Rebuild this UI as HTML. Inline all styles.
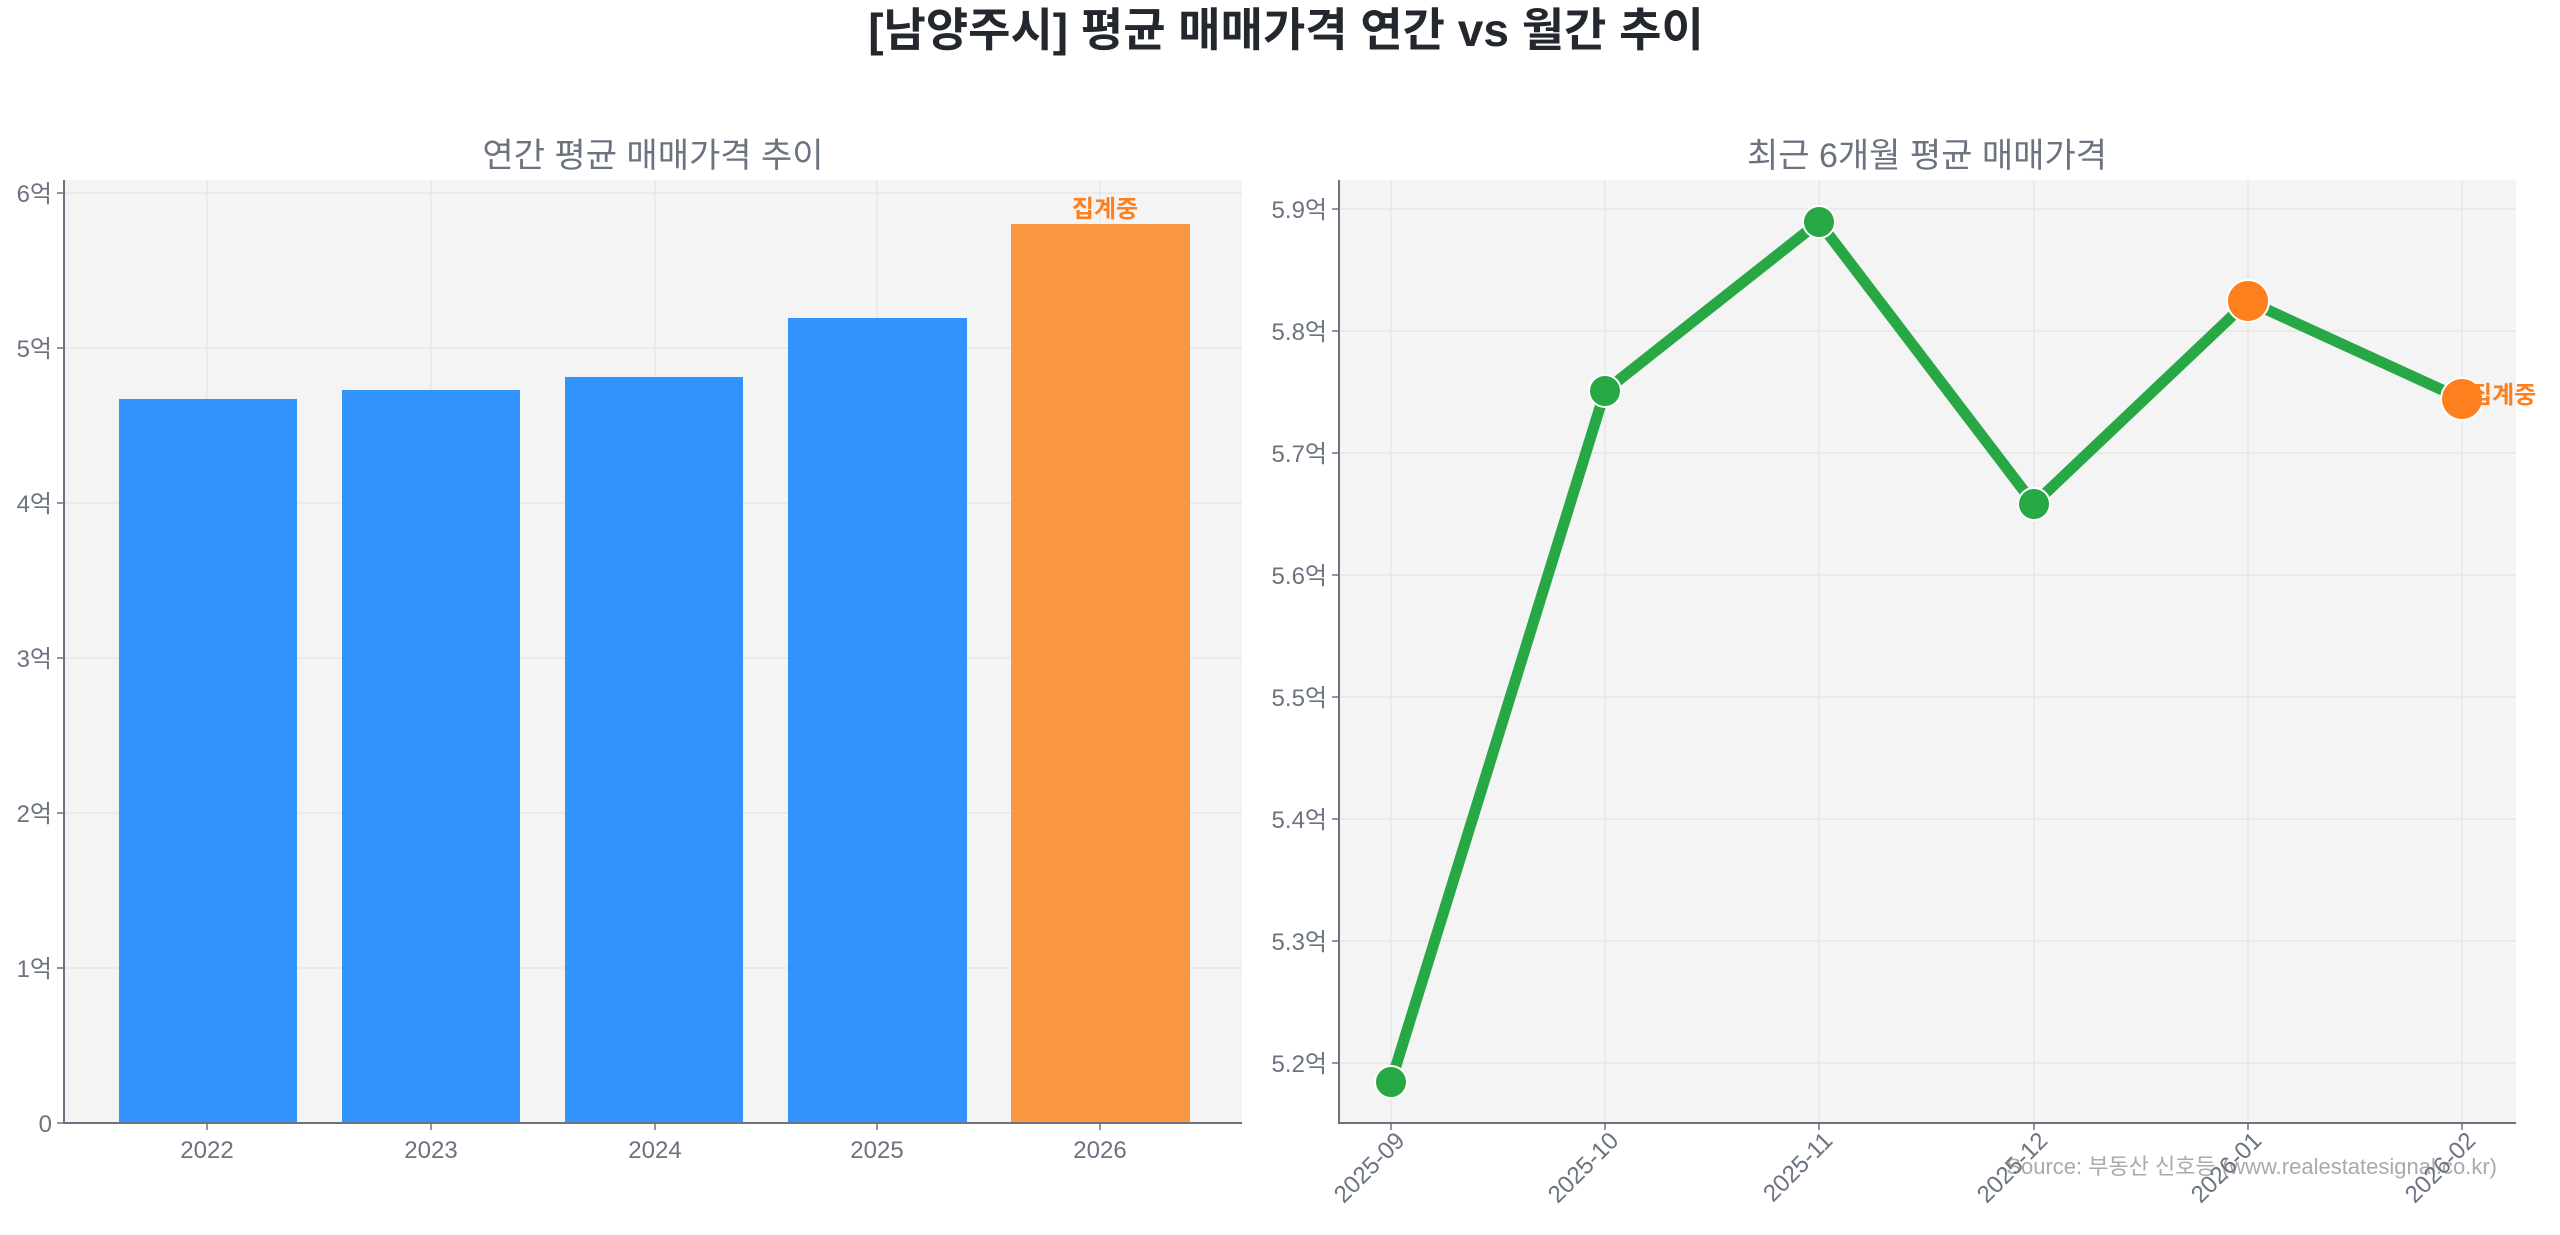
<!DOCTYPE html>
<html><head><meta charset="utf-8"><style>
html,body{margin:0;padding:0;background:#fff;}
svg{display:block;font-family:"Liberation Sans","Noto Sans CJK KR",sans-serif;}
.tk{fill:#6b7280;font-size:24px;}
.st{fill:#6b7280;font-size:34px;}
.g{stroke:#e3e3e3;stroke-width:1.2;}
</style></head><body>
<svg width="2560" height="1235" viewBox="0 0 2560 1235" xmlns="http://www.w3.org/2000/svg">
<text x="1286" y="46" text-anchor="middle" font-size="46" font-weight="bold" fill="#23272e">[남양주시] 평균 매매가격 연간 vs 월간 추이</text>

<!-- Left chart -->
<text x="653" y="167" text-anchor="middle" class="st">연간 평균 매매가격 추이</text>
<rect x="64" y="180" width="1178" height="943" fill="#f4f4f4"/>
<g class="g">
<line x1="64" x2="1242" y1="968" y2="968"/><line x1="64" x2="1242" y1="813" y2="813"/>
<line x1="64" x2="1242" y1="658" y2="658"/><line x1="64" x2="1242" y1="503" y2="503"/>
<line x1="64" x2="1242" y1="348" y2="348"/><line x1="64" x2="1242" y1="193" y2="193"/>
<line x1="207" x2="207" y1="180" y2="1123"/><line x1="431" x2="431" y1="180" y2="1123"/>
<line x1="655" x2="655" y1="180" y2="1123"/><line x1="877" x2="877" y1="180" y2="1123"/>
<line x1="1100" x2="1100" y1="180" y2="1123"/>
</g>
<rect x="119" y="399" width="178" height="724" fill="#3193fb"/>
<rect x="342" y="390" width="178" height="733" fill="#3193fb"/>
<rect x="565" y="377" width="178" height="746" fill="#3193fb"/>
<rect x="788" y="318" width="179" height="805" fill="#3193fb"/>
<rect x="1011" y="224" width="179" height="899" fill="#f99840"/>
<text x="1105" y="217" text-anchor="middle" font-size="24" font-weight="bold" fill="#fd7f1e">집계중</text>
<line x1="64" y1="180" x2="64" y2="1124" stroke="#6b7280" stroke-width="2"/>
<line x1="63" y1="1123" x2="1242" y2="1123" stroke="#6b7280" stroke-width="2"/>
<g stroke="#6b7280" stroke-width="1.5">
<line x1="57" x2="64" y1="1123" y2="1123"/><line x1="57" x2="64" y1="968" y2="968"/><line x1="57" x2="64" y1="813" y2="813"/>
<line x1="57" x2="64" y1="658" y2="658"/><line x1="57" x2="64" y1="503" y2="503"/><line x1="57" x2="64" y1="348" y2="348"/><line x1="57" x2="64" y1="193" y2="193"/>
<line x1="207" x2="207" y1="1123" y2="1130"/><line x1="431" x2="431" y1="1123" y2="1130"/><line x1="655" x2="655" y1="1123" y2="1130"/><line x1="877" x2="877" y1="1123" y2="1130"/><line x1="1100" x2="1100" y1="1123" y2="1130"/>
</g>
<g class="tk" text-anchor="end">
<text x="52" y="1132">0</text><text x="52" y="977">1억</text><text x="52" y="822">2억</text><text x="52" y="667">3억</text><text x="52" y="512">4억</text><text x="52" y="357">5억</text><text x="52" y="202">6억</text>
</g>
<g class="tk" text-anchor="middle">
<text x="207" y="1158">2022</text><text x="431" y="1158">2023</text><text x="655" y="1158">2024</text><text x="877" y="1158">2025</text><text x="1100" y="1158">2026</text>
</g>

<!-- Right chart -->
<text x="1927" y="167" text-anchor="middle" class="st">최근 6개월 평균 매매가격</text>
<rect x="1339" y="180" width="1177" height="943" fill="#f4f4f4"/>
<g class="g">
<line x1="1339" x2="2516" y1="209" y2="209"/><line x1="1339" x2="2516" y1="331" y2="331"/><line x1="1339" x2="2516" y1="453" y2="453"/>
<line x1="1339" x2="2516" y1="575" y2="575"/><line x1="1339" x2="2516" y1="697" y2="697"/><line x1="1339" x2="2516" y1="819" y2="819"/>
<line x1="1339" x2="2516" y1="941" y2="941"/><line x1="1339" x2="2516" y1="1063" y2="1063"/>
<line x1="1391" x2="1391" y1="180" y2="1123"/><line x1="1605" x2="1605" y1="180" y2="1123"/><line x1="1819" x2="1819" y1="180" y2="1123"/>
<line x1="2034" x2="2034" y1="180" y2="1123"/><line x1="2248" x2="2248" y1="180" y2="1123"/><line x1="2462" x2="2462" y1="180" y2="1123"/>
</g>
<polyline points="1391,1082 1605,391 1819,222 2034,504 2248,301 2462,399" fill="none" stroke="#28a745" stroke-width="11" stroke-linejoin="round"/>
<g fill="#28a745" stroke="#fff" stroke-width="2">
<circle cx="1391" cy="1082" r="16"/><circle cx="1605" cy="391" r="16"/><circle cx="1819" cy="222" r="16"/><circle cx="2034" cy="504" r="16"/>
</g>
<g fill="#fd7f1e" stroke="#fff" stroke-width="2">
<circle cx="2248" cy="301" r="21"/><circle cx="2462" cy="399" r="21"/>
</g>
<text x="2470" y="403" font-size="24" font-weight="bold" fill="#fd7f1e">집계중</text>
<line x1="1339" y1="180" x2="1339" y2="1124" stroke="#6b7280" stroke-width="2"/>
<line x1="1338" y1="1123" x2="2516" y2="1123" stroke="#6b7280" stroke-width="2"/>
<g stroke="#6b7280" stroke-width="1.5">
<line x1="1332" x2="1339" y1="209" y2="209"/><line x1="1332" x2="1339" y1="331" y2="331"/><line x1="1332" x2="1339" y1="453" y2="453"/><line x1="1332" x2="1339" y1="575" y2="575"/>
<line x1="1332" x2="1339" y1="697" y2="697"/><line x1="1332" x2="1339" y1="819" y2="819"/><line x1="1332" x2="1339" y1="941" y2="941"/><line x1="1332" x2="1339" y1="1063" y2="1063"/>
<line x1="1391" x2="1391" y1="1123" y2="1130"/><line x1="1605" x2="1605" y1="1123" y2="1130"/><line x1="1819" x2="1819" y1="1123" y2="1130"/>
<line x1="2034" x2="2034" y1="1123" y2="1130"/><line x1="2248" x2="2248" y1="1123" y2="1130"/><line x1="2462" x2="2462" y1="1123" y2="1130"/>
</g>
<g class="tk" text-anchor="end">
<text x="1327" y="218">5.9억</text><text x="1327" y="340">5.8억</text><text x="1327" y="462">5.7억</text><text x="1327" y="584">5.6억</text>
<text x="1327" y="706">5.5억</text><text x="1327" y="828">5.4억</text><text x="1327" y="950">5.3억</text><text x="1327" y="1072">5.2억</text>
</g>
<text x="2497" y="1174" text-anchor="end" font-size="22" fill="#aaaaaa">Source: 부동산 신호등 (www.realestatesignal.co.kr)</text>
<g class="tk" text-anchor="end" font-size="26">
<text transform="translate(1406,1142) rotate(-45)">2025-09</text>
<text transform="translate(1620,1142) rotate(-45)">2025-10</text>
<text transform="translate(1834,1142) rotate(-45)">2025-11</text>
<text transform="translate(2049,1142) rotate(-45)">2025-12</text>
<text transform="translate(2263,1142) rotate(-45)">2026-01</text>
<text transform="translate(2477,1142) rotate(-45)">2026-02</text>
</g>
</svg>
</body></html>
